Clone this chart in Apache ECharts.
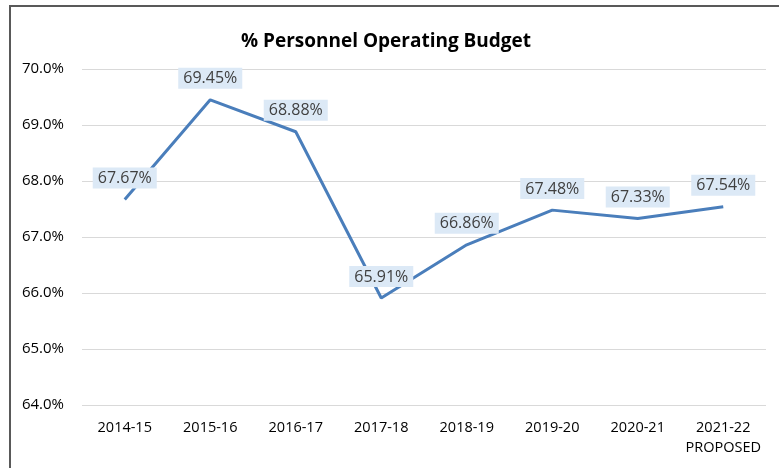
<!DOCTYPE html>
<html>
<head>
<meta charset="utf-8">
<script src="https://cdn.jsdelivr.net/npm/echarts@6/dist/echarts.min.js"></script>
<style>
  html, body { margin: 0; padding: 0; background: #fff; }
  #main { width: 779px; height: 468px; }
</style>
</head>
<body>
<div id="main"></div>
<script>
// fiscal years
var years = ['2014-15', '2015-16', '2016-17', '2017-18', '2018-19', '2019-20', '2020-21', '2021-22\nPROPOSED'];
// personnel share of operating budget (%)
var pctValues = [67.67, 69.45, 68.88, 65.91, 66.86, 67.48, 67.33, 67.54];

var myChart = echarts.init(document.getElementById('main'));

var option = {
    backgroundColor: '#fff',
    textStyle: { fontFamily: 'Open Sans' },
    title: {
        text: '% Personnel Operating Budget',
        left: 381,
        top: 27,
        textAlign: 'center',
        textStyle: { fontFamily: 'Open Sans', fontWeight: 'bold', fontSize: 19, color: '#000' }
    },
    graphic: [
        { type: 'line', shape: { x1: 9, y1: 6, x2: 779, y2: 6 }, style: { stroke: '#595959', lineWidth: 2 } },
        { type: 'line', shape: { x1: 10, y1: 5, x2: 10, y2: 468 }, style: { stroke: '#595959', lineWidth: 2 } }
    ],
    grid: { left: 82, right: 13, top: 69, bottom: 63 },
    xAxis: {
        type: 'category',
        data: years,
        axisLine: { show: false },
        axisTick: { show: false },
        axisLabel: { color: '#000', fontSize: 14.5, margin: 13, lineHeight: 20, interval: 0 }
    },
    yAxis: {
        type: 'value',
        min: 64,
        max: 70,
        interval: 1,
        axisLabel: {
            color: '#000',
            fontSize: 15,
            margin: 18,
            formatter: function (v) { return v.toFixed(1) + '%'; }
        },
        splitLine: { lineStyle: { color: '#d9d9d9', width: 1 } }
    },
    series: [
        {
            type: 'line',
            data: pctValues,
            symbol: 'circle',
            symbolSize: 0,
            showSymbol: true,
            lineStyle: { color: '#4a7ebb', width: 3 },
            itemStyle: { color: '#4a7ebb' },
            label: {
                show: true,
                position: 'top',
                distance: 11,
                color: '#404040',
                fontSize: 16,
                backgroundColor: '#dce9f6',
                padding: [3, 5, 2, 5],
                formatter: function (p) { return p.value.toFixed(2) + '%'; }
            }
        }
    ]
};

myChart.setOption(option);
</script>
</body>
</html>
